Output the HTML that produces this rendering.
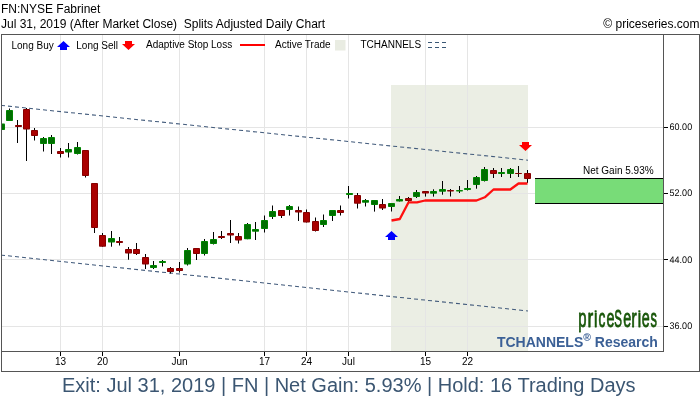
<!DOCTYPE html>
<html><head><meta charset="utf-8"><title>FN chart</title>
<style>
html,body{margin:0;padding:0;background:#fff;}
body{width:700px;height:400px;overflow:hidden;font-family:"Liberation Sans",sans-serif;}
svg{display:block;will-change:transform;}
svg text{font-family:"Liberation Sans",sans-serif;}
</style></head><body>
<svg width="700" height="400" viewBox="0 0 700 400">
<rect x="0" y="0" width="700" height="400" fill="#ffffff"/>

<text x="1" y="13" font-size="12" fill="#000">FN:NYSE Fabrinet</text>
<text x="1" y="28" font-size="12" fill="#000" xml:space="preserve">Jul 31, 2019 (After Market Close)  Splits Adjusted Daily Chart</text>
<text x="699.5" y="28" font-size="12" fill="#000" text-anchor="end">© priceseries.com</text>
<rect x="391" y="85" width="137" height="266" fill="#ebeee4"/>
<rect x="60" y="35" width="1" height="316" fill="#e5e5e5"/>
<rect x="102" y="35" width="1" height="316" fill="#e5e5e5"/>
<rect x="179" y="35" width="1" height="316" fill="#e5e5e5"/>
<rect x="264" y="35" width="1" height="316" fill="#e5e5e5"/>
<rect x="306" y="35" width="1" height="316" fill="#e5e5e5"/>
<rect x="348" y="35" width="1" height="316" fill="#e5e5e5"/>
<rect x="425" y="35" width="1" height="316" fill="#e5e5e5"/>
<rect x="467" y="35" width="1" height="316" fill="#e5e5e5"/>
<rect x="2" y="127" width="661" height="1" fill="#e5e5e5"/>
<rect x="2" y="193" width="661" height="1" fill="#e5e5e5"/>
<rect x="2" y="259" width="661" height="1" fill="#e5e5e5"/>
<rect x="2" y="326" width="661" height="1" fill="#e5e5e5"/>
<rect x="1" y="34" width="699" height="1" fill="#555555"/>
<rect x="1" y="371" width="699" height="1" fill="#555555"/>
<rect x="1" y="34" width="1" height="338" fill="#555555"/>
<rect x="699" y="34" width="1" height="338" fill="#555555"/>
<rect x="663" y="34" width="1" height="318" fill="#555555"/>
<rect x="1" y="351" width="663" height="1" fill="#555555"/>
<rect x="664" y="127" width="4" height="1" fill="#000"/>
<rect x="664" y="193" width="4" height="1" fill="#000"/>
<rect x="664" y="259" width="4" height="1" fill="#000"/>
<rect x="664" y="326" width="4" height="1" fill="#000"/>
<rect x="60" y="352" width="1" height="4" fill="#000"/>
<rect x="102" y="352" width="1" height="4" fill="#000"/>
<rect x="179" y="352" width="1" height="4" fill="#000"/>
<rect x="264" y="352" width="1" height="4" fill="#000"/>
<rect x="306" y="352" width="1" height="4" fill="#000"/>
<rect x="348" y="352" width="1" height="4" fill="#000"/>
<rect x="425" y="352" width="1" height="4" fill="#000"/>
<rect x="467" y="352" width="1" height="4" fill="#000"/>
<text transform="translate(669.6,130) rotate(0.03) scale(0.94,1)" font-size="9.6" fill="#000">60.00</text>
<text transform="translate(669.6,196) rotate(0.03) scale(0.94,1)" font-size="9.6" fill="#000">52.00</text>
<text transform="translate(669.6,263) rotate(0.03) scale(0.94,1)" font-size="9.6" fill="#000">44.00</text>
<text transform="translate(669.6,329) rotate(0.03) scale(0.94,1)" font-size="9.6" fill="#000">36.00</text>
<text x="60.5" y="364.5" font-size="10" fill="#000" text-anchor="middle">13</text>
<text x="102.5" y="364.5" font-size="10" fill="#000" text-anchor="middle">20</text>
<text x="179.5" y="364.5" font-size="10" fill="#000" text-anchor="middle">Jun</text>
<text x="264.5" y="364.5" font-size="10" fill="#000" text-anchor="middle">17</text>
<text x="306.5" y="364.5" font-size="10" fill="#000" text-anchor="middle">24</text>
<text x="348.5" y="364.5" font-size="10" fill="#000" text-anchor="middle">Jul</text>
<text x="425.5" y="364.5" font-size="10" fill="#000" text-anchor="middle">15</text>
<text x="467.5" y="364.5" font-size="10" fill="#000" text-anchor="middle">22</text>
<g clip-path="url(#plotclip)">
<line x1="1" y1="105.4" x2="528" y2="160.2" stroke="#40597a" stroke-width="1.05" stroke-dasharray="4,3.04"/>
<line x1="1" y1="255.1" x2="528" y2="311" stroke="#40597a" stroke-width="1.05" stroke-dasharray="4,3.04"/>
</g>
<defs><clipPath id="plotclip"><rect x="2" y="35" width="661" height="316"/></clipPath></defs>
<g clip-path="url(#plotclip)">
<rect x="1" y="123.4" width="1" height="6.6" fill="#000"/>
<rect x="-2" y="123.4" width="7" height="6.6" rx="0.8" fill="#008400"/>
<rect x="-1" y="124.4" width="5" height="4.6" fill="#006e00"/>
<rect x="9" y="108.5" width="1" height="12.5" fill="#000"/>
<rect x="6" y="110" width="7" height="11" rx="0.8" fill="#008400"/>
<rect x="7" y="111" width="5" height="9" fill="#006e00"/>
<rect x="17" y="120" width="1" height="23" fill="#000"/>
<rect x="15" y="125" width="7" height="2" rx="0.8" fill="#860000"/>
<rect x="26" y="108" width="1" height="53" fill="#000"/>
<rect x="23" y="109" width="7" height="20.5" rx="0.8" fill="#860000"/>
<rect x="24" y="110" width="5" height="18.5" fill="#aa0000"/>
<rect x="34" y="128" width="1" height="12.5" fill="#000"/>
<rect x="31" y="130" width="7" height="6" rx="0.8" fill="#860000"/>
<rect x="32" y="131" width="5" height="4" fill="#aa0000"/>
<rect x="43" y="137" width="1" height="14.5" fill="#000"/>
<rect x="40" y="138" width="7" height="6" rx="0.8" fill="#008400"/>
<rect x="41" y="139" width="5" height="4" fill="#006e00"/>
<rect x="51" y="135" width="1" height="19" fill="#000"/>
<rect x="48" y="137" width="7" height="7" rx="0.8" fill="#008400"/>
<rect x="49" y="138" width="5" height="5" fill="#006e00"/>
<rect x="60" y="148" width="1" height="9.5" fill="#000"/>
<rect x="57" y="151" width="7" height="3" rx="0.8" fill="#860000"/>
<rect x="58" y="152" width="5" height="1" fill="#aa0000"/>
<rect x="68" y="143" width="1" height="14.5" fill="#000"/>
<rect x="65" y="149" width="7" height="3.5" rx="0.8" fill="#008400"/>
<rect x="66" y="150" width="5" height="1.5" fill="#006e00"/>
<rect x="77" y="142" width="1" height="12.5" fill="#000"/>
<rect x="74" y="147" width="7" height="7" rx="0.8" fill="#008400"/>
<rect x="75" y="148" width="5" height="5" fill="#006e00"/>
<rect x="85" y="150" width="1" height="27.5" fill="#000"/>
<rect x="82" y="150" width="7" height="26" rx="0.8" fill="#860000"/>
<rect x="83" y="151" width="5" height="24" fill="#aa0000"/>
<rect x="94" y="183" width="1" height="50" fill="#000"/>
<rect x="91" y="183" width="7" height="45" rx="0.8" fill="#860000"/>
<rect x="92" y="184" width="5" height="43" fill="#aa0000"/>
<rect x="102" y="233" width="1" height="13.7" fill="#000"/>
<rect x="99" y="235" width="7" height="11.7" rx="0.8" fill="#860000"/>
<rect x="100" y="236" width="5" height="9.7" fill="#aa0000"/>
<rect x="111" y="231" width="1" height="15.7" fill="#000"/>
<rect x="108" y="238" width="7" height="4.5" rx="0.8" fill="#008400"/>
<rect x="109" y="239" width="5" height="2.5" fill="#006e00"/>
<rect x="119" y="237" width="1" height="8.5" fill="#000"/>
<rect x="116" y="241" width="7" height="2" rx="0.8" fill="#860000"/>
<rect x="128" y="247" width="1" height="12.7" fill="#000"/>
<rect x="125" y="249" width="7" height="4.5" rx="0.8" fill="#860000"/>
<rect x="126" y="250" width="5" height="2.5" fill="#aa0000"/>
<rect x="136" y="243" width="1" height="12" fill="#000"/>
<rect x="133" y="249" width="7" height="5" rx="0.8" fill="#860000"/>
<rect x="134" y="250" width="5" height="3" fill="#aa0000"/>
<rect x="145" y="254" width="1" height="15" fill="#000"/>
<rect x="142" y="257" width="7" height="7.5" rx="0.8" fill="#860000"/>
<rect x="143" y="258" width="5" height="5.5" fill="#aa0000"/>
<rect x="153" y="261" width="1" height="8" fill="#000"/>
<rect x="150" y="265" width="7" height="3" rx="0.8" fill="#008400"/>
<rect x="151" y="266" width="5" height="1" fill="#006e00"/>
<rect x="162" y="260" width="1" height="6.5" fill="#000"/>
<rect x="159" y="261" width="7" height="2" rx="0.8" fill="#008400"/>
<rect x="170" y="267" width="1" height="6.5" fill="#000"/>
<rect x="167" y="268" width="7" height="4" rx="0.8" fill="#860000"/>
<rect x="168" y="269" width="5" height="2" fill="#aa0000"/>
<rect x="179" y="262" width="1" height="10.5" fill="#000"/>
<rect x="176" y="268" width="7" height="3" rx="0.8" fill="#860000"/>
<rect x="177" y="269" width="5" height="1" fill="#aa0000"/>
<rect x="187" y="248" width="1" height="17.5" fill="#000"/>
<rect x="184" y="250" width="7" height="14.5" rx="0.8" fill="#008400"/>
<rect x="185" y="251" width="5" height="12.5" fill="#006e00"/>
<rect x="196" y="248" width="1" height="12" fill="#000"/>
<rect x="193" y="248" width="7" height="6" rx="0.8" fill="#860000"/>
<rect x="194" y="249" width="5" height="4" fill="#aa0000"/>
<rect x="204" y="239" width="1" height="16.5" fill="#000"/>
<rect x="201" y="241" width="7" height="13" rx="0.8" fill="#008400"/>
<rect x="202" y="242" width="5" height="11" fill="#006e00"/>
<rect x="213" y="232" width="1" height="12.5" fill="#000"/>
<rect x="210" y="239" width="7" height="5" rx="0.8" fill="#008400"/>
<rect x="211" y="240" width="5" height="3" fill="#006e00"/>
<rect x="221" y="231" width="1" height="8" fill="#000"/>
<rect x="218" y="236" width="7" height="2" rx="0.8" fill="#860000"/>
<rect x="230" y="220" width="1" height="23" fill="#000"/>
<rect x="227" y="233" width="7" height="2.5" rx="0.8" fill="#860000"/>
<rect x="228" y="234" width="5" height="0.5" fill="#aa0000"/>
<rect x="238" y="233" width="1" height="10.5" fill="#000"/>
<rect x="235" y="236" width="7" height="4.5" rx="0.8" fill="#860000"/>
<rect x="236" y="237" width="5" height="2.5" fill="#aa0000"/>
<rect x="247" y="223" width="1" height="16.2" fill="#000"/>
<rect x="244" y="224" width="7" height="15.2" rx="0.8" fill="#008400"/>
<rect x="245" y="225" width="5" height="13.2" fill="#006e00"/>
<rect x="255" y="222" width="1" height="18" fill="#000"/>
<rect x="252" y="229" width="7" height="2.8" rx="0.8" fill="#008400"/>
<rect x="253" y="230" width="5" height="0.8" fill="#006e00"/>
<rect x="264" y="215.5" width="1" height="17.0" fill="#000"/>
<rect x="261" y="220" width="7" height="9" rx="0.8" fill="#008400"/>
<rect x="262" y="221" width="5" height="7" fill="#006e00"/>
<rect x="272" y="205.5" width="1" height="13.5" fill="#000"/>
<rect x="269" y="211" width="7" height="6" rx="0.8" fill="#008400"/>
<rect x="270" y="212" width="5" height="4" fill="#006e00"/>
<rect x="281" y="210" width="1" height="8" fill="#000"/>
<rect x="278" y="210" width="7" height="6" rx="0.8" fill="#860000"/>
<rect x="279" y="211" width="5" height="4" fill="#aa0000"/>
<rect x="289" y="205" width="1" height="10.5" fill="#000"/>
<rect x="286" y="206" width="7" height="4" rx="0.8" fill="#008400"/>
<rect x="287" y="207" width="5" height="2" fill="#006e00"/>
<rect x="298" y="206.5" width="1" height="14.5" fill="#000"/>
<rect x="295" y="210" width="7" height="2.5" rx="0.8" fill="#860000"/>
<rect x="296" y="211" width="5" height="0.5" fill="#aa0000"/>
<rect x="306" y="209.5" width="1" height="13.0" fill="#000"/>
<rect x="303" y="212" width="7" height="10.5" rx="0.8" fill="#860000"/>
<rect x="304" y="213" width="5" height="8.5" fill="#aa0000"/>
<rect x="315" y="217.5" width="1" height="14.0" fill="#000"/>
<rect x="312" y="221" width="7" height="10" rx="0.8" fill="#860000"/>
<rect x="313" y="222" width="5" height="8" fill="#aa0000"/>
<rect x="323" y="214.5" width="1" height="12.5" fill="#000"/>
<rect x="320" y="220" width="7" height="5" rx="0.8" fill="#008400"/>
<rect x="321" y="221" width="5" height="3" fill="#006e00"/>
<rect x="332" y="210" width="1" height="11" fill="#000"/>
<rect x="329" y="210" width="7" height="6" rx="0.8" fill="#008400"/>
<rect x="330" y="211" width="5" height="4" fill="#006e00"/>
<rect x="340" y="205.5" width="1" height="10.0" fill="#000"/>
<rect x="337" y="210" width="7" height="3" rx="0.8" fill="#860000"/>
<rect x="338" y="211" width="5" height="1" fill="#aa0000"/>
<rect x="348" y="186" width="1" height="12.5" fill="#000"/>
<rect x="346" y="193" width="7" height="2" rx="0.8" fill="#008400"/>
<rect x="357" y="193" width="1" height="15.5" fill="#000"/>
<rect x="354" y="195" width="7" height="8.75" rx="0.8" fill="#860000"/>
<rect x="355" y="196" width="5" height="6.75" fill="#aa0000"/>
<rect x="365" y="199" width="1" height="7.5" fill="#000"/>
<rect x="362" y="200" width="7" height="2.7" rx="0.8" fill="#008400"/>
<rect x="363" y="201" width="5" height="0.7" fill="#006e00"/>
<rect x="374" y="200" width="1" height="11.6" fill="#000"/>
<rect x="371" y="200" width="7" height="5" rx="0.8" fill="#008400"/>
<rect x="372" y="201" width="5" height="3" fill="#006e00"/>
<rect x="382" y="199" width="1" height="11" fill="#000"/>
<rect x="379" y="204" width="7" height="4.5" rx="0.8" fill="#860000"/>
<rect x="380" y="205" width="5" height="2.5" fill="#aa0000"/>
<rect x="391" y="203" width="1" height="8.5" fill="#000"/>
<rect x="388" y="203" width="7" height="4" rx="0.8" fill="#008400"/>
<rect x="389" y="204" width="5" height="2" fill="#006e00"/>
<rect x="399" y="196" width="1" height="5.5" fill="#000"/>
<rect x="396" y="199" width="7" height="2.5" rx="0.8" fill="#008400"/>
<rect x="397" y="200" width="5" height="0.5" fill="#006e00"/>
<rect x="408" y="197" width="1" height="5" fill="#000"/>
<rect x="405" y="198" width="7" height="3" rx="0.8" fill="#860000"/>
<rect x="406" y="199" width="5" height="1" fill="#aa0000"/>
<rect x="416" y="190" width="1" height="8" fill="#000"/>
<rect x="413" y="192" width="7" height="5" rx="0.8" fill="#008400"/>
<rect x="414" y="193" width="5" height="3" fill="#006e00"/>
<rect x="425" y="191" width="1" height="5.6" fill="#000"/>
<rect x="422" y="191" width="7" height="2.6" rx="0.8" fill="#860000"/>
<rect x="423" y="192" width="5" height="0.6" fill="#aa0000"/>
<rect x="433" y="189.3" width="1" height="7.3" fill="#000"/>
<rect x="430" y="191" width="7" height="2.85" rx="0.8" fill="#008400"/>
<rect x="431" y="192" width="5" height="0.85" fill="#006e00"/>
<rect x="442" y="181" width="1" height="13.7" fill="#000"/>
<rect x="439" y="189" width="7" height="2.7" rx="0.8" fill="#008400"/>
<rect x="440" y="190" width="5" height="0.7" fill="#006e00"/>
<rect x="450" y="189" width="1" height="7.5" fill="#000"/>
<rect x="447" y="190" width="7" height="1.5" rx="0.8" fill="#860000"/>
<rect x="459" y="186" width="1" height="7" fill="#000"/>
<rect x="456" y="190" width="7" height="1.5" rx="0.8" fill="#008400"/>
<rect x="467" y="180" width="1" height="10.5" fill="#000"/>
<rect x="464" y="188" width="7" height="2" rx="0.8" fill="#008400"/>
<rect x="476" y="176" width="1" height="12.7" fill="#000"/>
<rect x="473" y="177" width="7" height="8" rx="0.8" fill="#008400"/>
<rect x="474" y="178" width="5" height="6" fill="#006e00"/>
<rect x="484" y="167" width="1" height="14.5" fill="#000"/>
<rect x="481" y="169" width="7" height="12" rx="0.8" fill="#008400"/>
<rect x="482" y="170" width="5" height="10" fill="#006e00"/>
<rect x="493" y="168" width="1" height="10" fill="#000"/>
<rect x="490" y="170" width="7" height="4" rx="0.8" fill="#860000"/>
<rect x="491" y="171" width="5" height="2" fill="#aa0000"/>
<rect x="501" y="168" width="1" height="9" fill="#000"/>
<rect x="498" y="172" width="7" height="2" rx="0.8" fill="#008400"/>
<rect x="510" y="168" width="1" height="10" fill="#000"/>
<rect x="507" y="169" width="7" height="5" rx="0.8" fill="#008400"/>
<rect x="508" y="170" width="5" height="3" fill="#006e00"/>
<rect x="518" y="166" width="1" height="11" fill="#000"/>
<rect x="515" y="173" width="7" height="1" rx="0.8" fill="#860000"/>
<rect x="527" y="170" width="1" height="13" fill="#000"/>
<rect x="524" y="173" width="7" height="6" rx="0.8" fill="#860000"/>
<rect x="525" y="174" width="5" height="4" fill="#aa0000"/>
</g>
<polyline fill="none" stroke="#ff1010" stroke-width="2.3" stroke-linejoin="round" points="391.5,220.5 399.8,219 408.6,202.3 417,202.3 425,200.5 476.5,200.5 484.8,197.3 493.5,189.5 510.3,189.5 518.5,183.5 527.5,183.5"/>
<path fill="#0000ff" d="M391.5,231 L398.0,237 L395.0,237 L395.0,240 L388.0,240 L388.0,237 L385.0,237 Z"/>
<path fill="#ff0000" d="M522.0,142 L529.0,142 L529.0,145 L532.0,145 L525.5,151 L519.0,145 L522.0,145 Z"/>
<rect x="535" y="178" width="128" height="26" fill="#000"/>
<rect x="535" y="179" width="128" height="24" fill="#78dc78"/>
<text x="583" y="173.7" font-size="10" fill="#000">Net Gain 5.93%</text>
<text x="11.5" y="48.7" font-size="10" fill="#000">Long Buy</text>
<path fill="#0000ff" d="M63.5,41 L70.0,47 L67.0,47 L67.0,50 L60.0,50 L60.0,47 L57.0,47 Z"/>
<text x="76.3" y="48.7" font-size="10" fill="#000">Long Sell</text>
<path fill="#ff0000" d="M125.0,41 L132.0,41 L132.0,44 L135.0,44 L128.5,50 L122.0,44 L125.0,44 Z"/>
<text x="146" y="47.5" font-size="10" fill="#000">Adaptive Stop Loss</text>
<rect x="240" y="44" width="25" height="2" fill="#ff0000"/>
<text x="275" y="47.5" font-size="10" fill="#000">Active Trade</text>
<rect x="335" y="40" width="10.5" height="10.5" fill="#e9ece2"/>
<text x="360.5" y="47.5" font-size="10" fill="#000">TCHANNELS</text>
<rect x="428" y="42" width="4" height="1" fill="#3a5775"/>
<rect x="435" y="42" width="4" height="1" fill="#3a5775"/>
<rect x="442" y="42" width="4" height="1" fill="#3a5775"/>
<rect x="428" y="47" width="4" height="1" fill="#3a5775"/>
<rect x="435" y="47" width="4" height="1" fill="#3a5775"/>
<rect x="442" y="47" width="4" height="1" fill="#3a5775"/>
<text transform="translate(578.25,327.2) scale(0.580,1)" font-size="25.5" fill="#185609" stroke="#185609" stroke-width="0.7" vector-effect="non-scaling-stroke" stroke-linejoin="round">p</text>
<text transform="translate(587.51,327.2) scale(0.675,1)" font-size="25.5" fill="#185609" stroke="#185609" stroke-width="0.7" vector-effect="non-scaling-stroke" stroke-linejoin="round">r</text>
<text transform="translate(593.44,327.2) scale(0.625,1)" font-size="25.5" fill="#185609" stroke="#185609" stroke-width="0.7" vector-effect="non-scaling-stroke" stroke-linejoin="round">ı</text>
<rect x="594.6" y="310.2" width="2.10" height="2.1" rx="0.6" fill="#185609"/>
<text transform="translate(598.57,327.2) scale(0.537,1)" font-size="25.5" fill="#185609" stroke="#185609" stroke-width="0.7" vector-effect="non-scaling-stroke" stroke-linejoin="round">c</text>
<text transform="translate(606.54,327.2) scale(0.560,1)" font-size="25.5" fill="#185609" stroke="#185609" stroke-width="0.7" vector-effect="non-scaling-stroke" stroke-linejoin="round">e</text>
<text transform="translate(614.28,327.2) scale(0.473,1)" font-size="24.4" fill="#185609" stroke="#185609" stroke-width="0.7" vector-effect="non-scaling-stroke" stroke-linejoin="round">S</text>
<text transform="translate(623.24,327.2) scale(0.560,1)" font-size="25.5" fill="#185609" stroke="#185609" stroke-width="0.7" vector-effect="non-scaling-stroke" stroke-linejoin="round">e</text>
<text transform="translate(631.36,327.2) scale(0.643,1)" font-size="25.5" fill="#185609" stroke="#185609" stroke-width="0.7" vector-effect="non-scaling-stroke" stroke-linejoin="round">r</text>
<text transform="translate(637.14,327.2) scale(0.625,1)" font-size="25.5" fill="#185609" stroke="#185609" stroke-width="0.7" vector-effect="non-scaling-stroke" stroke-linejoin="round">ı</text>
<rect x="638.3" y="310.2" width="2.10" height="2.1" rx="0.6" fill="#185609"/>
<text transform="translate(641.74,327.2) scale(0.560,1)" font-size="25.5" fill="#185609" stroke="#185609" stroke-width="0.7" vector-effect="non-scaling-stroke" stroke-linejoin="round">e</text>
<text transform="translate(650.49,327.2) scale(0.504,1)" font-size="25.5" fill="#185609" stroke="#185609" stroke-width="0.7" vector-effect="non-scaling-stroke" stroke-linejoin="round">s</text>
<text x="496.9" y="346.7" font-size="14" font-weight="bold" fill="#3b6096">TCHANNELS<tspan font-size="10.4" dy="-5.5">®</tspan><tspan dy="5.5"> Research</tspan></text>
<text x="348.8" y="391.5" font-size="20" fill="#3b5672" text-anchor="middle">Exit: Jul 31, 2019 | FN | Net Gain: 5.93% | Hold: 16 Trading Days</text>
</svg></body></html>
